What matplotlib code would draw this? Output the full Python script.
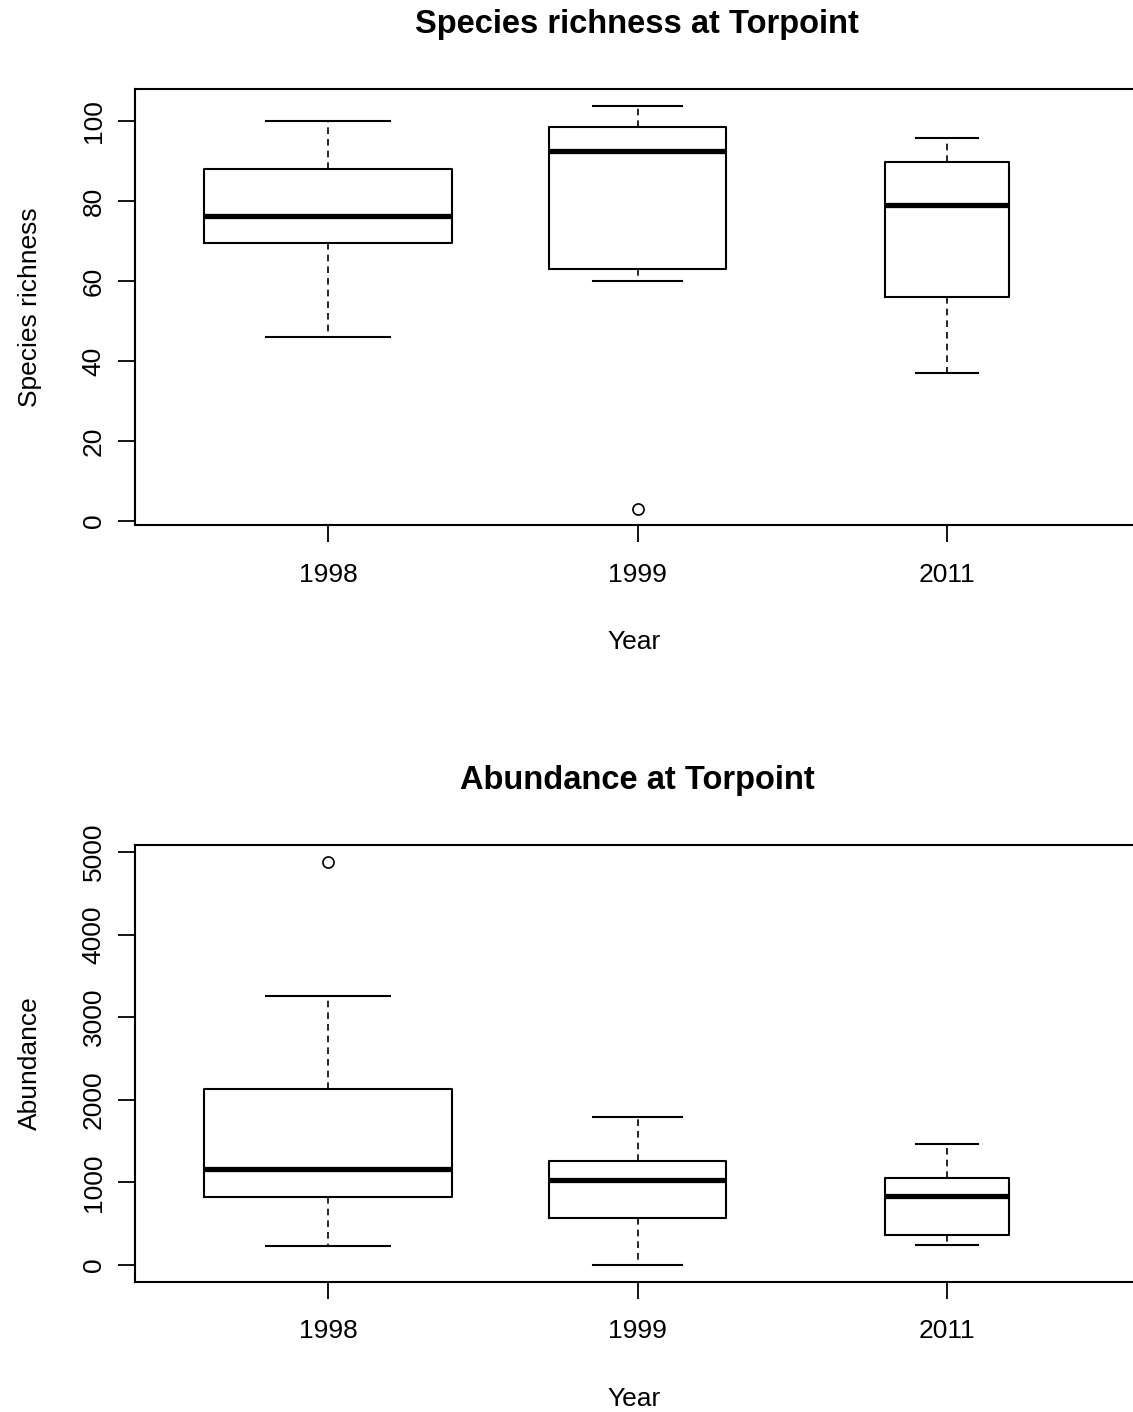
import numpy as np
import matplotlib.pyplot as plt

plt.rcParams['font.family'] = ['Liberation Sans', 'DejaVu Sans']

years = ["1998", "1999", "2011"]
box_widths = [0.8, 0.57, 0.4]

# species richness: whisker low, Q1, median, Q3, whisker high
rich_lo = [46, 60, 37]
rich_q1 = [69.5, 63, 56]
rich_med = [76.2, 92.5, 79]
rich_q3 = [88, 98.5, 89.8]
rich_hi = [100, 103.8, 95.8]
rich_out = [[], [3], []]

# abundance
abun_lo = [230, 0, 242]
abun_q1 = [823, 569, 363]
abun_med = [1162, 1029, 835]
abun_q3 = [2131, 1259, 1053]
abun_hi = [3257, 1792, 1465]
abun_out = [[4879], [], []]


def stats(lo, q1, med, q3, hi, out):
    return [dict(whislo=lo[i], q1=q1[i], med=med[i], q3=q3[i], whishi=hi[i],
                 fliers=out[i], label=years[i]) for i in range(len(years))]


W, H = 1133, 1412
fig = plt.figure(figsize=(W / 100, H / 100), dpi=100)


def panel(top_px, bot_px, st, ylim, yticks, title, ylabel, title_px):
    ax = fig.add_axes([135 / W, 1 - bot_px / H, 1 - 135 / W, (bot_px - top_px) / H])
    ax.bxp(st, positions=[1, 2, 3], widths=box_widths,
           boxprops=dict(color='black', linewidth=1.5),
           medianprops=dict(color='black', linewidth=3.8, solid_capstyle='butt'),
           whiskerprops=dict(color='black', linewidth=1.2, linestyle=(0, (4, 3))),
           capprops=dict(color='black', linewidth=1.5),
           capwidths=[w / 2 for w in box_widths],
           flierprops=dict(marker='o', markerfacecolor='none', markeredgecolor='black',
                           markersize=8, markeredgewidth=1.2))
    ax.set_xlim(0.377, 3.6)
    ax.set_ylim(*ylim)
    ax.set_yticks(yticks)
    ax.set_yticklabels([str(t) for t in yticks], rotation=90, va='center')
    ax.spines['right'].set_visible(False)
    for s in ['left', 'top', 'bottom']:
        ax.spines[s].set_linewidth(1.5)
    ax.tick_params(axis='both', length=12, width=1.3, labelsize=19, pad=9)
    ax.tick_params(axis='x', pad=15)
    ax.set_xlabel("Year", fontsize=19, labelpad=31)
    ax.set_ylabel(ylabel, fontsize=19, labelpad=29)
    fig.text(637 / W, 1 - title_px / H, title, ha='center', va='center',
             fontsize=23.5, fontweight='bold')
    return ax


panel(89, 525, stats(rich_lo, rich_q1, rich_med, rich_q3, rich_hi, rich_out),
      (-1, 108), [0, 20, 40, 60, 80, 100], "Species richness at Torpoint",
      "Species richness", 25)
panel(845, 1282, stats(abun_lo, abun_q1, abun_med, abun_q3, abun_hi, abun_out),
      (-206, 5085), [0, 1000, 2000, 3000, 4000, 5000], "Abundance at Torpoint",
      "Abundance", 781)

fig.savefig("out.png", dpi=100)
